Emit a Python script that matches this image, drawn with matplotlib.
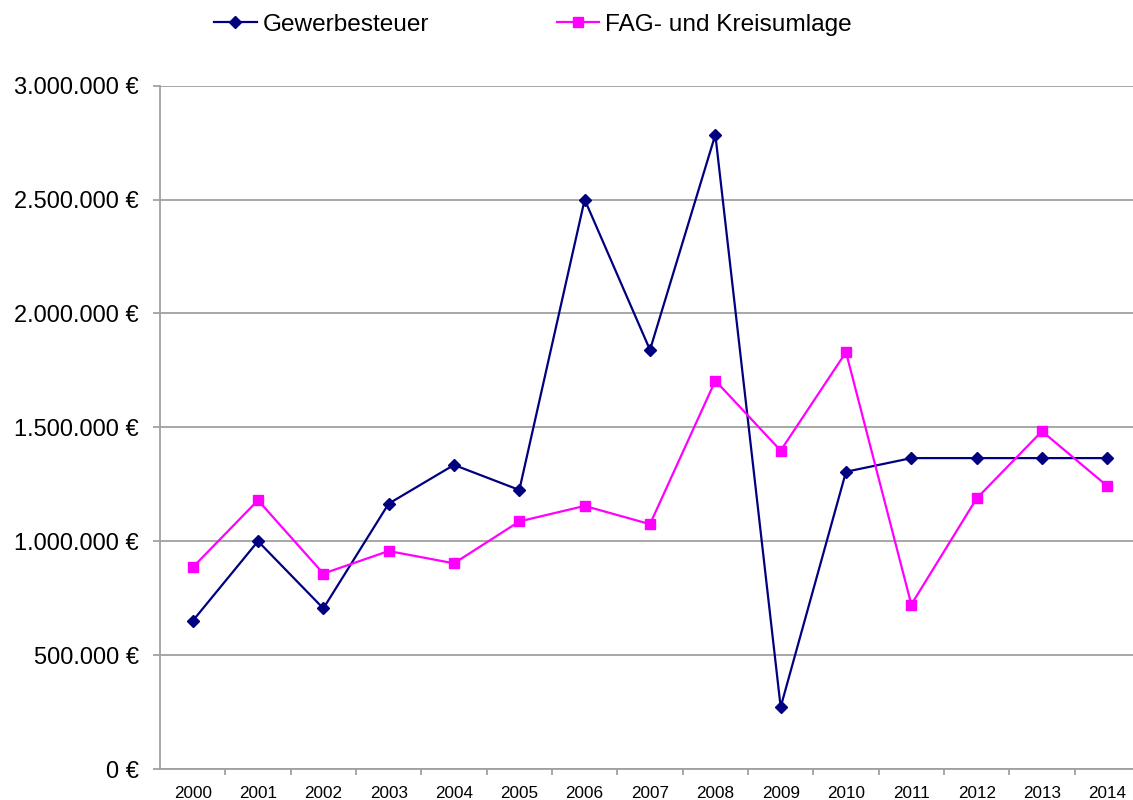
import matplotlib
matplotlib.use("Agg")
import matplotlib.pyplot as plt
from matplotlib.ticker import FuncFormatter, FixedLocator

plt.rcParams['font.family'] = ['Liberation Sans', 'DejaVu Sans']

years = [str(y) for y in range(2000, 2015)]
gewerbesteuer = [650000, 1000000, 705000, 1165000, 1335000, 1225000, 2500000,
                 1840000, 2785000, 272000, 1305000, 1365000, 1365000, 1365000, 1365000]
fag_kreisumlage = [885000, 1180000, 858000, 957000, 903000, 1087000, 1155000,
                   1075000, 1705000, 1398000, 1830000, 722000, 1188000, 1483000, 1242000]
yticks = [0, 500000, 1000000, 1500000, 2000000, 2500000, 3000000]

fig = plt.figure(figsize=(11.33, 8), dpi=100)
ax = fig.add_axes([160/1133, 31/800, (1140-160)/1133, (769-85.7)/800])

x = list(range(len(years)))
l1, = ax.plot(x, gewerbesteuer, color='#000080', lw=1.6, marker='D', ms=6,
              label='Gewerbesteuer', zorder=3)
l2, = ax.plot(x, fag_kreisumlage, color='#FF00FF', lw=1.6, marker='s', ms=6.5,
              label='FAG- und Kreisumlage', zorder=3)

ax.set_xlim(-0.5, len(years) - 0.5)
ax.set_ylim(0, 3000000)
ax.set_yticks(yticks)
ax.yaxis.set_major_formatter(FuncFormatter(lambda v, p: f"{int(v):,}".replace(",", ".") + " €"))
ax.grid(axis='y', color='#a0a0a0', lw=1.3)
ax.set_axisbelow(True)

ax.set_xticks(x)
ax.set_xticklabels(years)
ax.xaxis.set_minor_locator(FixedLocator([i + 0.5 for i in x[:-1]]))
ax.tick_params(axis='x', which='major', length=0, pad=12, labelsize=12.3)
ax.tick_params(axis='x', which='minor', length=4, color='#a0a0a0', width=1.3)
ax.tick_params(axis='y', length=5, color='#a0a0a0', width=1.3, pad=10, labelsize=17)

for s in ['top', 'right']:
    ax.spines[s].set_visible(False)
for s in ['left', 'bottom']:
    ax.spines[s].set_color('#a0a0a0')
    ax.spines[s].set_linewidth(1.3)

fig.legend(handles=[l1, l2], loc='center left', bbox_to_anchor=(214/1133, 1 - 25/800),
           ncol=2, frameon=False, fontsize=17.6, handlelength=1.75, handletextpad=0.25,
           columnspacing=5.2, borderaxespad=0, borderpad=0)

fig.savefig('out.png', dpi=100)
